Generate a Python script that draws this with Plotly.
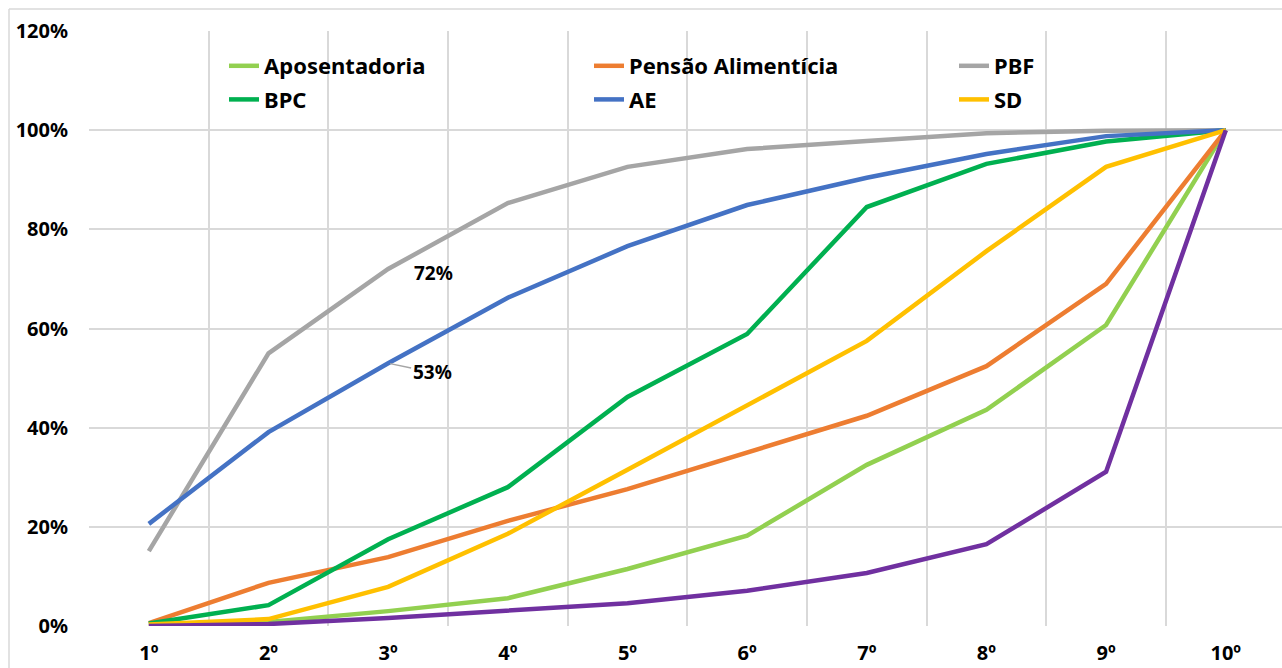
import plotly.graph_objects as go

# Decis (1º a 10º) e participação acumulada de cada fonte de renda
decis = ["1º", "2º", "3º", "4º", "5º", "6º", "7º", "8º", "9º", "10º"]

aposentadoria = [0.000, 0.008, 0.030, 0.056, 0.115, 0.182, 0.325, 0.436, 0.607, 1.000]
pensao_alimenticia = [0.006, 0.087, 0.139, 0.212, 0.276, 0.349, 0.424, 0.524, 0.690, 1.000]
pbf = [0.151, 0.550, 0.720, 0.853, 0.926, 0.962, 0.978, 0.994, 0.999, 1.000]
bpc = [0.005, 0.042, 0.175, 0.280, 0.462, 0.589, 0.845, 0.932, 0.977, 1.000]
ae = [0.206, 0.391, 0.530, 0.662, 0.766, 0.849, 0.904, 0.952, 0.988, 1.000]
sd = [0.003, 0.014, 0.079, 0.186, 0.315, 0.446, 0.575, 0.756, 0.926, 1.000]
outra = [0.000, 0.004, 0.016, 0.030, 0.046, 0.071, 0.107, 0.165, 0.311, 1.000]

y_ticks = [0, 0.2, 0.4, 0.6, 0.8, 1.0, 1.2]
y_tick_labels = ["0%", "20%", "40%", "60%", "80%", "100%", "120%"]

FONT = "Noto Sans"
LW = 4.5

series = [
    ("Aposentadoria", aposentadoria, "#92D050", "legend", True),
    ("Pensão Alimentícia", pensao_alimenticia, "#ED7D31", "legend2", True),
    ("PBF", pbf, "#A5A5A5", "legend3", True),
    ("BPC", bpc, "#00B050", "legend", True),
    ("AE", ae, "#4472C4", "legend2", True),
    ("SD", sd, "#FFC000", "legend3", True),
    ("Outros", outra, "#7030A0", "legend", False),
]

fig = go.Figure()
for name, vals, color, leg, show in series:
    fig.add_trace(go.Scatter(
        x=decis, y=vals, name=name, mode="lines",
        line=dict(color=color, width=LW),
        legend=leg, legendgroup=name, showlegend=show,
    ))

W, H = 1282, 668
L, T, B = 89, 31, 42
plot_w = W - L
plot_h = H - T - B


def px_x(px):
    return (px - L) / plot_w


def px_y(py):
    return (H - B - py) / plot_h


legend_common = dict(
    font=dict(family=FONT, size=22, color="#000000", weight="bold"),
    bgcolor="rgba(0,0,0,0)",
    orientation="v",
    xanchor="left",
    yanchor="top",
    tracegroupgap=2,
    traceorder="grouped",
    itemwidth=30,
)

tick_font = dict(family=FONT, size=20, color="#000000", weight="bold")

fig.update_layout(
    width=W, height=H,
    margin=dict(l=L, r=0, t=T, b=B),
    paper_bgcolor="white",
    plot_bgcolor="white",
    font=dict(family=FONT, color="#000000"),
    legend=dict(x=px_x(224), y=px_y(45), **legend_common),
    legend2=dict(x=px_x(589), y=px_y(45), **legend_common),
    legend3=dict(x=px_x(954), y=px_y(45), **legend_common),
    xaxis=dict(
        type="category",
        range=[-0.5, 9.47],
        tickson="boundaries",
        showgrid=True,
        gridcolor="#D9D9D9",
        gridwidth=2,
        showline=False,
        ticks="",
        ticklabelstandoff=13,
        tickfont=tick_font,
        zeroline=False,
    ),
    yaxis=dict(
        range=[0, 1.2],
        tickvals=y_ticks,
        ticktext=y_tick_labels,
        showgrid=True,
        gridcolor="#D9D9D9",
        gridwidth=2,
        zeroline=False,
        showline=False,
        ticks="",
        ticklabelstandoff=20,
        tickfont=tick_font,
    ),
)

# rótulos de dados no 3º decil
fig.add_annotation(
    x="3º", y=pbf[2], text=f"{pbf[2]:.0%}", showarrow=False,
    xanchor="left", yanchor="middle", xshift=24, yshift=-4,
    font=dict(family=FONT, size=19, color="#000000", weight="bold"),
)
fig.add_annotation(
    x="3º", y=ae[2], text=f"{ae[2]:.0%}", showarrow=True,
    arrowhead=0, arrowwidth=1.5, arrowcolor="#A5A5A5",
    ax=44, ay=9, standoff=2,
    xanchor="center", yanchor="middle",
    font=dict(family=FONT, size=19, color="#000000", weight="bold"),
)

# borda da área do gráfico
fig.add_shape(type="line", xref="paper", yref="paper",
              x0=px_x(9), x1=px_x(W + 5), y0=px_y(9), y1=px_y(9),
              line=dict(color="#D9D9D9", width=1.5))
fig.add_shape(type="line", xref="paper", yref="paper",
              x0=px_x(9), x1=px_x(9), y0=px_y(9), y1=px_y(H + 5),
              line=dict(color="#D9D9D9", width=1.5))

fig.write_html("out.html")
